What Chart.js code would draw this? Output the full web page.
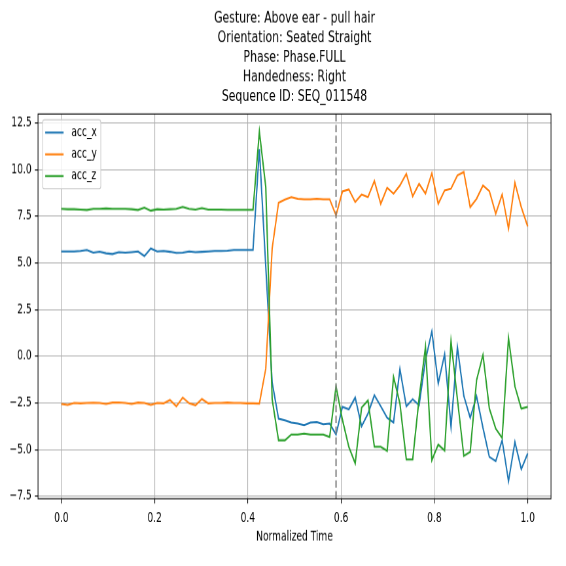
<!DOCTYPE html>
<html>
<head>
<meta charset="utf-8">
<script src="https://cdn.jsdelivr.net/npm/chart.js@4.4.1/dist/chart.umd.min.js"></script>
<style>
  html, body { margin: 0; padding: 0; background: #fff; overflow: hidden; }
  #wrap { width: 566px; height: 566px; overflow: hidden; position: relative; background: #fff; }
  /* figure is drawn wide, then squeezed to 566x566 like the original */
  #plot { position: absolute; left: 0; top: 0; transform-origin: 0 0; transform: scale(0.6543, 0.9792); }
</style>
</head>
<body>
<div id="wrap"><canvas id="plot" width="865" height="578"></canvas></div>
<script>
//************************************************************
// data
var titleLines = [
    "Gesture: Above ear - pull hair",
    "Orientation: Seated Straight",
    "Phase: Phase.FULL",
    "Handedness: Right",
    "Sequence ID: SEQ_011548"
];
var xLabel = "Normalized Time";
var seriesNames = ["acc_x", "acc_y", "acc_z"];
var seriesColors = ["#1f77b4", "#ff7f0e", "#2ca02c"];

var acc_x = [5.62, 5.62, 5.62, 5.64, 5.70, 5.55, 5.60, 5.52, 5.48, 5.58,
    5.55, 5.58, 5.62, 5.37, 5.78, 5.62, 5.64, 5.60, 5.54, 5.55,
    5.62, 5.58, 5.60, 5.62, 5.64, 5.64, 5.66, 5.70, 5.70, 5.70,
    5.70, 11.10, 4.80, -1.40, -3.34, -3.43, -3.55, -3.60, -3.69, -3.55,
    -3.52, -3.64, -3.60, -4.19, -2.71, -2.84, -2.21, -3.75, -3.07, -2.09,
    -2.68, -3.30, -3.55, -0.68, -2.68, -2.30, -2.62, -0.20, 1.34, -1.45,
    0.11, -3.77, 0.48, -2.12, -3.30, -2.14, -3.83, -5.39, -5.62, -4.50,
    -6.69, -4.59, -6.05, -5.21];
var acc_y = [-2.55, -2.60, -2.50, -2.52, -2.50, -2.49, -2.50, -2.55, -2.48, -2.47,
    -2.50, -2.55, -2.48, -2.50, -2.60, -2.50, -2.52, -2.34, -2.68, -2.21,
    -2.52, -2.62, -2.29, -2.52, -2.50, -2.50, -2.48, -2.50, -2.50, -2.52,
    -2.52, -2.53, -0.66, 5.77, 8.23, 8.40, 8.53, 8.44, 8.41, 8.41,
    8.44, 8.41, 8.41, 7.55, 8.83, 8.94, 8.26, 8.67, 8.53, 9.39,
    8.17, 9.03, 8.71, 9.15, 9.78, 8.57, 9.24, 8.71, 9.81, 8.17,
    8.89, 8.98, 9.69, 9.87, 7.99, 8.44, 9.15, 8.85, 7.64, 8.67,
    6.84, 9.30, 7.99, 6.96];
var acc_z = [7.90, 7.88, 7.88, 7.86, 7.84, 7.90, 7.90, 7.92, 7.90, 7.90,
    7.90, 7.88, 7.84, 7.96, 7.80, 7.88, 7.86, 7.88, 7.90, 8.00,
    7.90, 7.86, 7.94, 7.86, 7.86, 7.86, 7.85, 7.85, 7.85, 7.85,
    7.85, 12.04, 9.06, -2.30, -4.50, -4.50, -4.19, -4.19, -4.14, -4.19,
    -4.19, -4.19, -4.32, -1.61, -3.40, -4.85, -5.74, -2.75, -2.36, -4.85,
    -4.85, -5.07, -1.11, -2.53, -5.53, -5.53, -2.25, 0.50, -5.57, -4.73,
    -5.05, 0.80, -2.30, -5.34, -5.12, -1.28, 0.08, -2.80, -3.87, -4.37,
    0.98, -1.61, -2.80, -2.71];

var phaseIndex = 43;   // sample where the dashed line sits
var xTicks = [0.0, 0.2, 0.4, 0.6, 0.8, 1.0];
var yTicks = [-7.5, -5.0, -2.5, 0.0, 2.5, 5.0, 7.5, 10.0, 12.5];
var xMin = -0.05, xMax = 1.05;
var yMin = -7.63, yMax = 12.98;

// normalized time of each sample
var time = acc_x.map(function (v, i) { return i / (acc_x.length - 1); });

var FONT = "DejaVu Sans";
var FS = 13.9;

function fmt(v) {
    var s = Math.abs(v).toFixed(1);
    return v < -1e-9 ? "\u2212" + s : s;
}

var series = [acc_x, acc_y, acc_z];
var datasets = series.map(function (vals, k) {
    return {
        label: seriesNames[k],
        data: vals.map(function (v, i) { return { x: time[i], y: v }; }),
        borderColor: seriesColors[k],
        backgroundColor: seriesColors[k],
        borderWidth: 2.08,
        pointRadius: 0,
        fill: false,
        tension: 0,
        order: 3 - k
    };
});

// dashed phase marker
var phaseLine = {
    id: 'phaseLine',
    afterDatasetsDraw: function (chart) {
        var c = chart.ctx, a = chart.chartArea;
        var x = chart.scales.x.getPixelForValue(time[phaseIndex]);
        c.save();
        c.strokeStyle = '#808080';
        c.lineWidth = 2.08;
        c.setLineDash([7.7, 3.3]);
        c.beginPath();
        c.moveTo(x, a.top);
        c.lineTo(x, a.bottom);
        c.stroke();
        c.restore();
    }
};

// box around the axes
var frame = {
    id: 'frame',
    afterDatasetsDraw: function (chart) {
        var c = chart.ctx, a = chart.chartArea;
        c.save();
        c.strokeStyle = '#000';
        c.lineWidth = 1.1;
        c.strokeRect(a.left, a.top, a.right - a.left, a.bottom - a.top);
        c.restore();
    }
};

// five line title over the axes
var figTitle = {
    id: 'figTitle',
    afterDraw: function (chart) {
        var c = chart.ctx, a = chart.chartArea;
        var cx = (a.left + a.right) / 2;
        var n = titleLines.length;
        c.save();
        c.fillStyle = '#000';
        c.font = '16.67px "' + FONT + '"';
        c.textAlign = 'center';
        c.textBaseline = 'middle';
        titleLines.forEach(function (t, i) {
            c.fillText(t, cx, a.top - 17.7 - (n - 1 - i) * 20);
        });
        c.restore();
    }
};

// legend in the upper left corner
var cornerLegend = {
    id: 'cornerLegend',
    afterDraw: function (chart) {
        var c = chart.ctx, a = chart.chartArea;
        var x0 = a.left + 7, y0 = a.top + 6;
        var rowH = 22.2;
        c.save();
        c.font = FS + 'px "' + FONT + '"';
        var tw = 0;
        seriesNames.forEach(function (s) { tw = Math.max(tw, c.measureText(s).width); });
        var w = 44 + tw + 6, h = 26 + rowH * (seriesNames.length - 1);
        var r = 2.8;
        c.beginPath();
        c.moveTo(x0 + r, y0);
        c.lineTo(x0 + w - r, y0);
        c.quadraticCurveTo(x0 + w, y0, x0 + w, y0 + r);
        c.lineTo(x0 + w, y0 + h - r);
        c.quadraticCurveTo(x0 + w, y0 + h, x0 + w - r, y0 + h);
        c.lineTo(x0 + r, y0 + h);
        c.quadraticCurveTo(x0, y0 + h, x0, y0 + h - r);
        c.lineTo(x0, y0 + r);
        c.quadraticCurveTo(x0, y0, x0 + r, y0);
        c.closePath();
        c.fillStyle = 'rgba(255,255,255,0.8)';
        c.fill();
        c.strokeStyle = '#cccccc';
        c.lineWidth = 1.1;
        c.stroke();
        seriesNames.forEach(function (s, k) {
            var cy = y0 + 13 + k * rowH;
            c.strokeStyle = seriesColors[k];
            c.lineWidth = 2.08;
            c.beginPath();
            c.moveTo(x0 + 4, cy);
            c.lineTo(x0 + 32, cy);
            c.stroke();
            c.fillStyle = '#000';
            c.textAlign = 'left';
            c.textBaseline = 'middle';
            c.fillText(s, x0 + 44, cy);
        });
        c.restore();
    }
};

var ctx = document.getElementById("plot").getContext("2d");
var myLineChart = new Chart(ctx, {
    type: 'line',
    data: { datasets: datasets },
    options: {
        responsive: false,
        devicePixelRatio: 1,
        animation: false,
        layout: { padding: { left: 0, right: 22.9, top: 116.4, bottom: 21.3 } },
        plugins: {
            legend: { display: false },
            tooltip: { enabled: false },
            title: { display: false }
        },
        scales: {
            x: {
                type: 'linear',
                min: xMin,
                max: xMax,
                afterBuildTicks: function (s) { s.ticks = xTicks.map(function (v) { return { value: v }; }); },
                afterFit: function (s) { s.height = 47.4; },
                ticks: { callback: fmt, color: '#000', font: { family: FONT, size: FS }, padding: 6.5, maxRotation: 0, autoSkip: false },
                grid: { color: '#b0b0b0', lineWidth: 1.1, tickColor: '#000', tickLength: 4.9, tickWidth: 1.1 },
                border: { display: false },
                title: { display: true, text: xLabel, color: '#000', font: { family: FONT, size: FS }, padding: { top: 0, bottom: 0 } }
            },
            y: {
                type: 'linear',
                min: yMin,
                max: yMax,
                afterBuildTicks: function (s) { s.ticks = yTicks.map(function (v) { return { value: v }; }); },
                afterFit: function (s) { s.width = 58.1; },
                ticks: { callback: fmt, color: '#000', font: { family: FONT, size: FS }, padding: 4.9, autoSkip: false },
                grid: { color: '#b0b0b0', lineWidth: 1.1, tickColor: '#000', tickLength: 4.9, tickWidth: 1.1 },
                border: { display: false }
            }
        }
    },
    plugins: [phaseLine, frame, figTitle, cornerLegend]
});
</script>
</body>
</html>
